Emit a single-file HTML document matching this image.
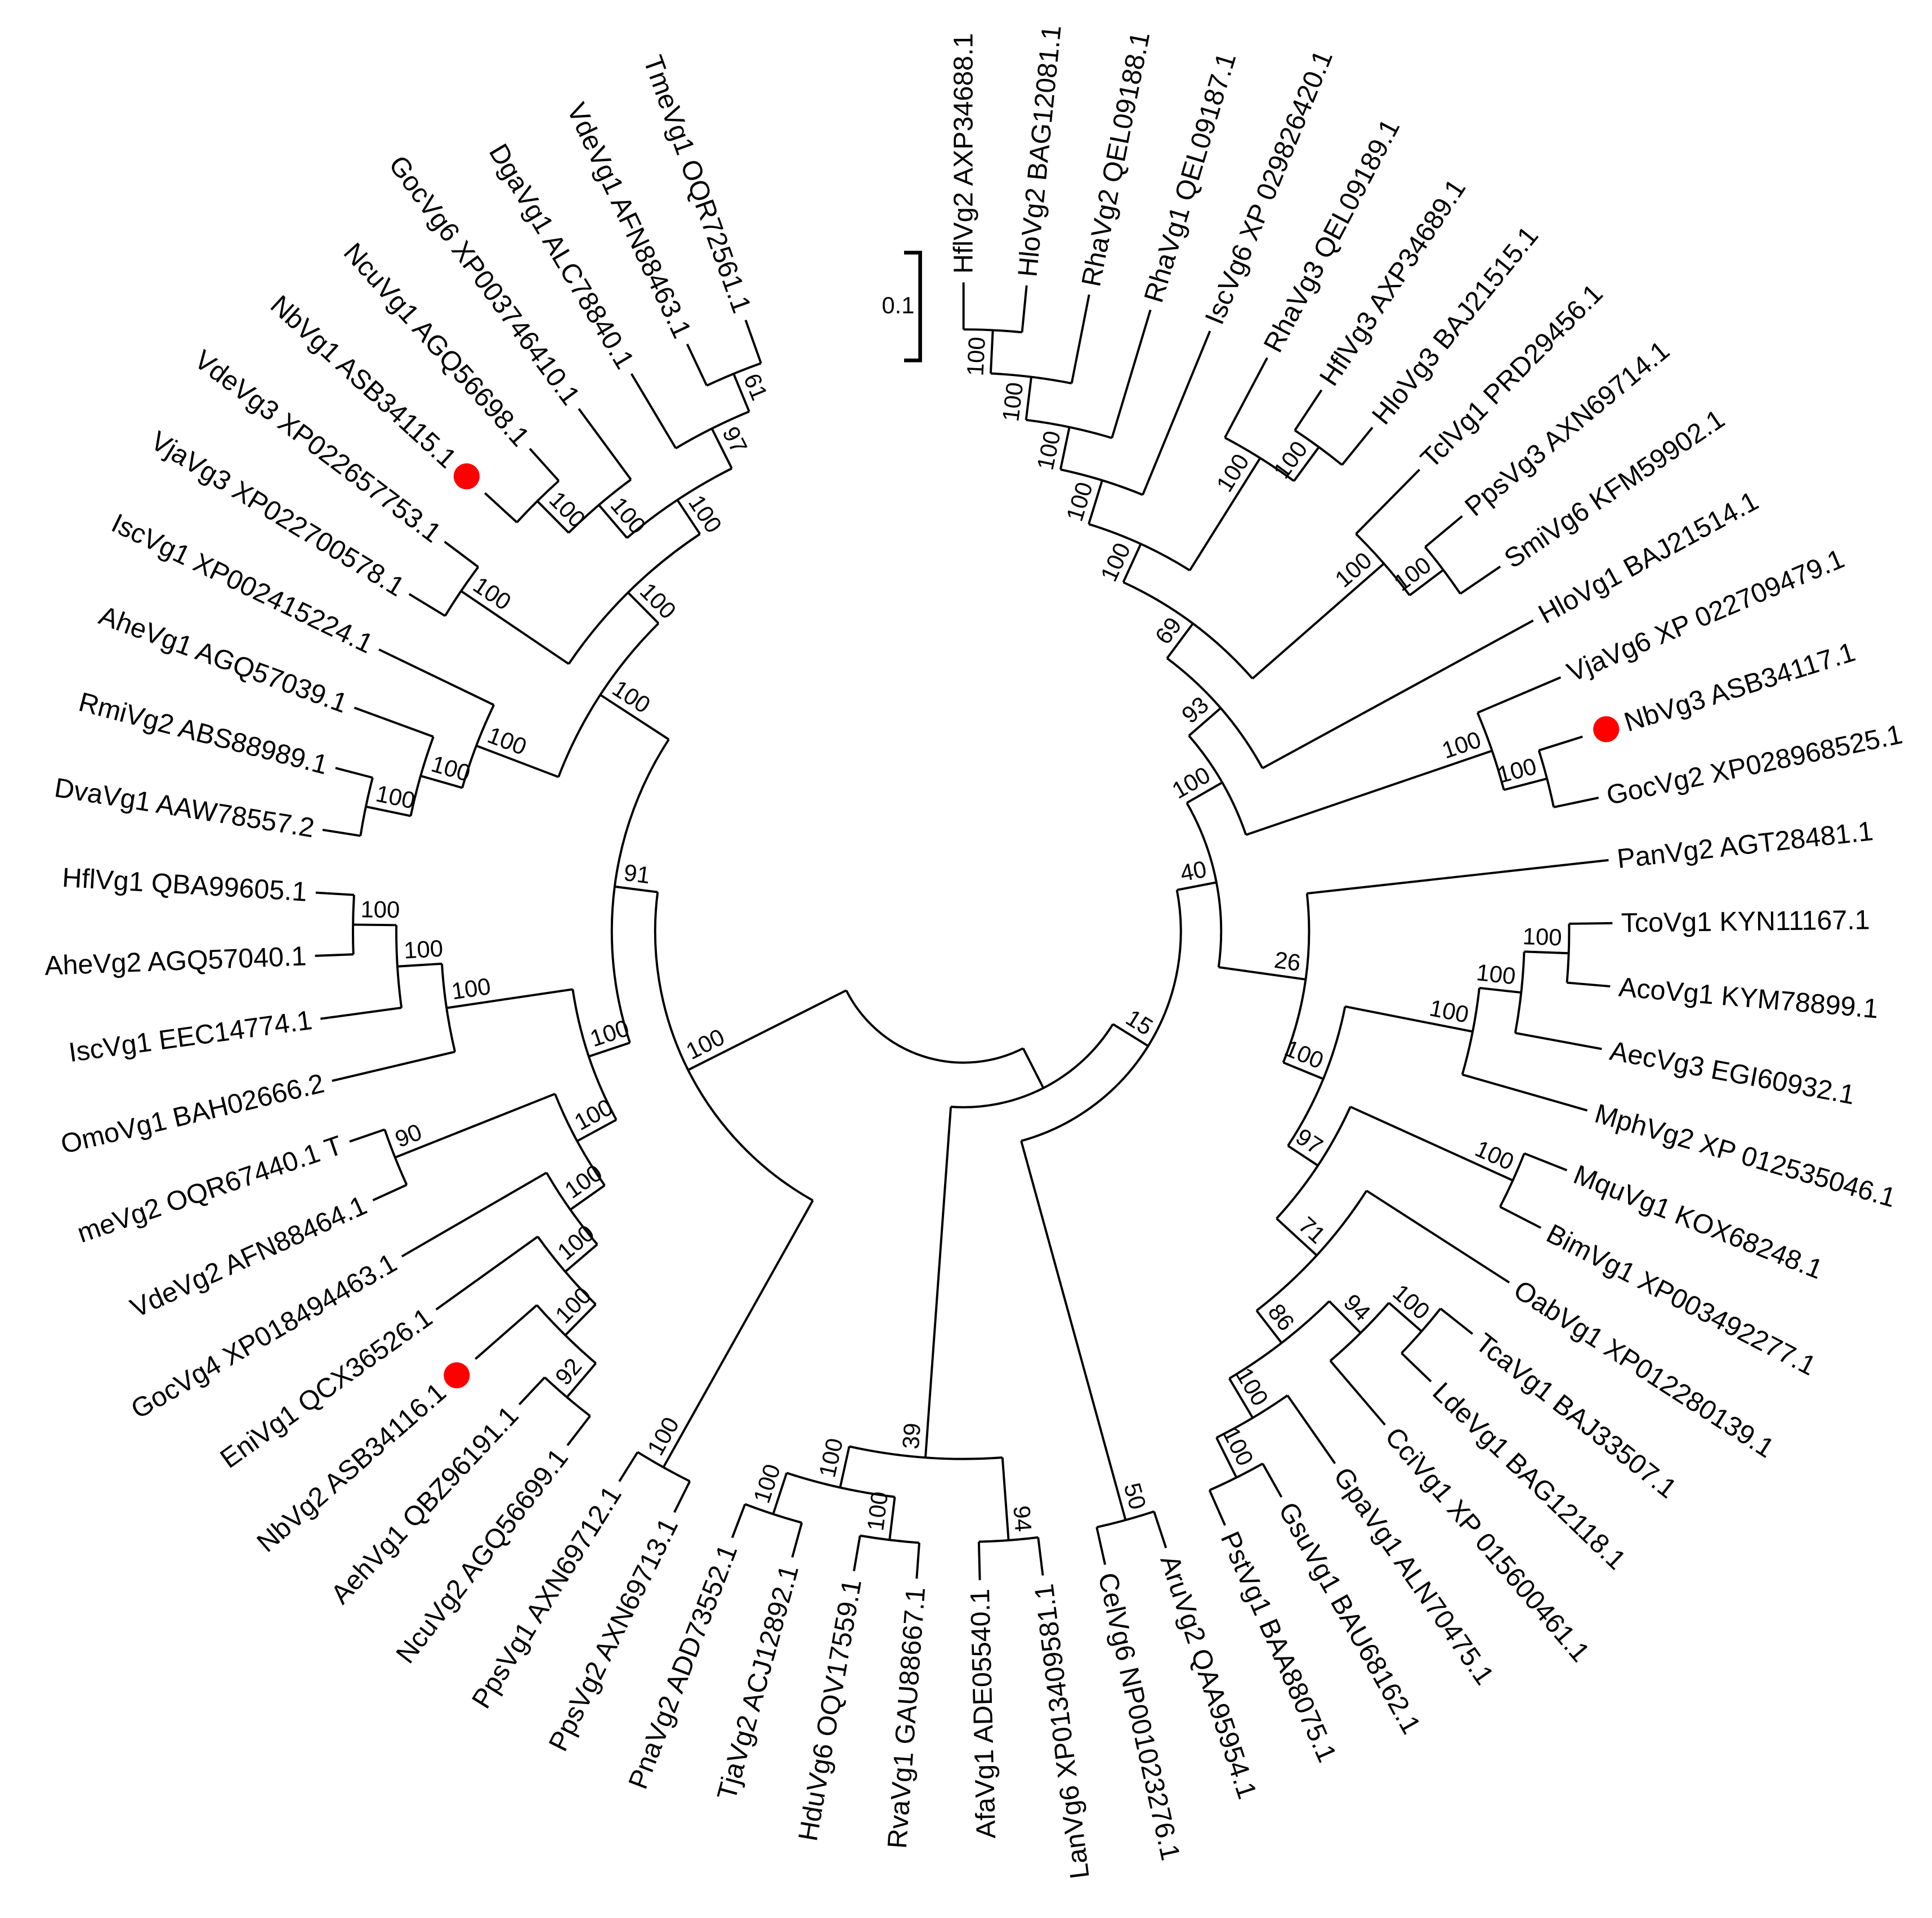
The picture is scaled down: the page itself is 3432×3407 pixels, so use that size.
<!DOCTYPE html>
<html><head><meta charset="utf-8"><style>
html,body{margin:0;padding:0;background:#fff}
svg{display:block}
.l{font-family:"Liberation Sans",Arial,sans-serif;font-size:22px;fill:#000}
.b{font-family:"Liberation Sans",Arial,sans-serif;font-size:19px;fill:#000}
</style></head><body>
<svg xmlns="http://www.w3.org/2000/svg" width="3432" height="3407" viewBox="0 0 1560 1548.64">
<rect width="1560" height="1548.64" fill="#fff"/>
<g transform="translate(778 752)">
<g stroke="#000" stroke-width="1.8" fill="none">
<circle r="486" transform="rotate(-90)" stroke-dasharray="47.33 5000"/>
<circle r="451" transform="rotate(-87.21)" stroke-dasharray="65.88 5000"/>
<circle r="416" transform="rotate(-83.03)" stroke-dasharray="70.94 5000"/>
<circle r="381" transform="rotate(-78.14)" stroke-dasharray="69.56 5000"/>
<circle r="485" transform="rotate(-56.52)" stroke-dasharray="47.23 5000"/>
<circle r="451" transform="rotate(-62.10)" stroke-dasharray="65.88 5000"/>
<circle r="344" transform="rotate(-72.91)" stroke-dasharray="90.0 5000"/>
<circle r="485" transform="rotate(-39.78)" stroke-dasharray="47.23 5000"/>
<circle r="451" transform="rotate(-45.36)" stroke-dasharray="65.88 5000"/>
<circle r="310" transform="rotate(-65.41)" stroke-dasharray="131.1 5000"/>
<circle r="275" transform="rotate(-53.30)" stroke-dasharray="118.45 5000"/>
<circle r="487" transform="rotate(-17.46)" stroke-dasharray="47.43 5000"/>
<circle r="451" transform="rotate(-23.04)" stroke-dasharray="65.88 5000"/>
<circle r="241" transform="rotate(-40.96)" stroke-dasharray="92.96 5000"/>
<circle r="489" transform="rotate(-0.72)" stroke-dasharray="47.62 5000"/>
<circle r="453" transform="rotate(2.07)" stroke-dasharray="66.17 5000"/>
<circle r="419" transform="rotate(6.26)" stroke-dasharray="71.37 5000"/>
<circle r="487" transform="rotate(21.60)" stroke-dasharray="47.43 5000"/>
<circle r="491" transform="rotate(38.34)" stroke-dasharray="47.82 5000"/>
<circle r="456" transform="rotate(41.13)" stroke-dasharray="66.61 5000"/>
<circle r="493" transform="rotate(60.66)" stroke-dasharray="48.01 5000"/>
<circle r="457" transform="rotate(55.08)" stroke-dasharray="66.76 5000"/>
<circle r="420" transform="rotate(45.32)" stroke-dasharray="102.26 5000"/>
<circle r="387" transform="rotate(32.76)" stroke-dasharray="131.98 5000"/>
<circle r="343" transform="rotate(24.39)" stroke-dasharray="108.6 5000"/>
<circle r="314" transform="rotate(11.14)" stroke-dasharray="122.32 5000"/>
<circle r="279" transform="rotate(-6.30)" stroke-dasharray="139.27 5000"/>
<circle r="208" transform="rotate(-29.91)" stroke-dasharray="137.63 5000"/>
<circle r="493" transform="rotate(71.82)" stroke-dasharray="48.01 5000"/>
<circle r="175.5" transform="rotate(-10.96)" stroke-dasharray="262.1 5000"/>
<circle r="493" transform="rotate(82.98)" stroke-dasharray="48.01 5000"/>
<circle r="495" transform="rotate(105.30)" stroke-dasharray="48.21 5000"/>
<circle r="495" transform="rotate(94.14)" stroke-dasharray="48.21 5000"/>
<circle r="460" transform="rotate(96.93)" stroke-dasharray="89.6 5000"/>
<circle r="426" transform="rotate(85.77)" stroke-dasharray="124.46 5000"/>
<circle r="142" transform="rotate(31.83)" stroke-dasharray="154.43 5000"/>
<circle r="496" transform="rotate(116.46)" stroke-dasharray="48.3 5000"/>
<circle r="494" transform="rotate(127.62)" stroke-dasharray="48.11 5000"/>
<circle r="458" transform="rotate(130.41)" stroke-dasharray="66.91 5000"/>
<circle r="423" transform="rotate(134.60)" stroke-dasharray="72.05 5000"/>
<circle r="389" transform="rotate(139.48)" stroke-dasharray="71.02 5000"/>
<circle r="494" transform="rotate(155.52)" stroke-dasharray="48.11 5000"/>
<circle r="355" transform="rotate(144.71)" stroke-dasharray="84.26 5000"/>
<circle r="493" transform="rotate(177.84)" stroke-dasharray="48.01 5000"/>
<circle r="458" transform="rotate(172.26)" stroke-dasharray="66.91 5000"/>
<circle r="422" transform="rotate(166.68)" stroke-dasharray="71.96 5000"/>
<circle r="319" transform="rotate(151.51)" stroke-dasharray="111.69 5000"/>
<circle r="493" transform="rotate(189.00)" stroke-dasharray="48.01 5000"/>
<circle r="456" transform="rotate(191.79)" stroke-dasharray="66.61 5000"/>
<circle r="421" transform="rotate(195.98)" stroke-dasharray="71.72 5000"/>
<circle r="490" transform="rotate(211.32)" stroke-dasharray="47.72 5000"/>
<circle r="489" transform="rotate(222.48)" stroke-dasharray="47.62 5000"/>
<circle r="453" transform="rotate(225.27)" stroke-dasharray="66.17 5000"/>
<circle r="487" transform="rotate(244.80)" stroke-dasharray="47.43 5000"/>
<circle r="454" transform="rotate(239.22)" stroke-dasharray="66.32 5000"/>
<circle r="418" transform="rotate(229.46)" stroke-dasharray="101.77 5000"/>
<circle r="385" transform="rotate(214.11)" stroke-dasharray="150.05 5000"/>
<circle r="350" transform="rotate(200.86)" stroke-dasharray="149.17 5000"/>
<circle r="284" transform="rotate(161.54)" stroke-dasharray="255.41 5000"/>
<circle r="249" transform="rotate(119.25)" stroke-dasharray="295.77 5000"/>
<circle r="106" transform="rotate(62.99)" stroke-dasharray="167.04 5000"/>
<line x1="486" x2="524" transform="rotate(-90)"/>
<line x1="486" x2="524" transform="rotate(-84.42)"/>
<line x1="451" x2="524" transform="rotate(-78.84)"/>
<line x1="416" x2="524" transform="rotate(-73.26)"/>
<line x1="381" x2="524" transform="rotate(-67.68)"/>
<line x1="451" x2="524" transform="rotate(-62.10)"/>
<line x1="485" x2="524" transform="rotate(-56.52)"/>
<line x1="485" x2="524" transform="rotate(-50.94)"/>
<line x1="451" x2="524" transform="rotate(-45.36)"/>
<line x1="485" x2="524" transform="rotate(-39.78)"/>
<line x1="485" x2="524" transform="rotate(-34.20)"/>
<line x1="275" x2="524" transform="rotate(-28.62)"/>
<line x1="451" x2="524" transform="rotate(-23.04)"/>
<line x1="487" x2="524" transform="rotate(-17.46)"/>
<line x1="487" x2="524" transform="rotate(-11.88)"/>
<line x1="279" x2="524" transform="rotate(-6.30)"/>
<line x1="489" x2="524" transform="rotate(-0.72)"/>
<line x1="489" x2="524" transform="rotate(4.86)"/>
<line x1="453" x2="524" transform="rotate(10.44)"/>
<line x1="419" x2="524" transform="rotate(16.02)"/>
<line x1="487" x2="524" transform="rotate(21.60)"/>
<line x1="487" x2="524" transform="rotate(27.18)"/>
<line x1="387" x2="524" transform="rotate(32.76)"/>
<line x1="491" x2="524" transform="rotate(38.34)"/>
<line x1="491" x2="524" transform="rotate(43.92)"/>
<line x1="456" x2="524" transform="rotate(49.50)"/>
<line x1="457" x2="524" transform="rotate(55.08)"/>
<line x1="493" x2="524" transform="rotate(60.66)"/>
<line x1="493" x2="524" transform="rotate(66.24)"/>
<line x1="493" x2="524" transform="rotate(71.82)"/>
<line x1="493" x2="524" transform="rotate(77.40)"/>
<line x1="493" x2="524" transform="rotate(82.98)"/>
<line x1="493" x2="524" transform="rotate(88.56)"/>
<line x1="495" x2="524" transform="rotate(94.14)"/>
<line x1="495" x2="524" transform="rotate(99.72)"/>
<line x1="495" x2="524" transform="rotate(105.30)"/>
<line x1="495" x2="524" transform="rotate(110.88)"/>
<line x1="496" x2="524" transform="rotate(116.46)"/>
<line x1="496" x2="524" transform="rotate(122.04)"/>
<line x1="494" x2="524" transform="rotate(127.62)"/>
<line x1="494" x2="524" transform="rotate(133.20)"/>
<line x1="458" x2="524" transform="rotate(138.78)"/>
<line x1="423" x2="524" transform="rotate(144.36)"/>
<line x1="389" x2="524" transform="rotate(149.94)"/>
<line x1="494" x2="524" transform="rotate(155.52)"/>
<line x1="494" x2="524" transform="rotate(161.10)"/>
<line x1="422" x2="524" transform="rotate(166.68)"/>
<line x1="458" x2="524" transform="rotate(172.26)"/>
<line x1="493" x2="524" transform="rotate(177.84)"/>
<line x1="493" x2="524" transform="rotate(183.42)"/>
<line x1="493" x2="524" transform="rotate(189.00)"/>
<line x1="493" x2="524" transform="rotate(194.58)"/>
<line x1="456" x2="524" transform="rotate(200.16)"/>
<line x1="421" x2="524" transform="rotate(205.74)"/>
<line x1="490" x2="524" transform="rotate(211.32)"/>
<line x1="490" x2="524" transform="rotate(216.90)"/>
<line x1="489" x2="524" transform="rotate(222.48)"/>
<line x1="489" x2="524" transform="rotate(228.06)"/>
<line x1="453" x2="524" transform="rotate(233.64)"/>
<line x1="454" x2="524" transform="rotate(239.22)"/>
<line x1="487" x2="524" transform="rotate(244.80)"/>
<line x1="487" x2="524" transform="rotate(250.38)"/>
<line x1="451" x2="486" transform="rotate(-87.21)"/>
<line x1="416" x2="451" transform="rotate(-83.03)"/>
<line x1="381" x2="416" transform="rotate(-78.14)"/>
<line x1="344" x2="381" transform="rotate(-72.91)"/>
<line x1="451" x2="485" transform="rotate(-53.73)"/>
<line x1="344" x2="451" transform="rotate(-57.92)"/>
<line x1="310" x2="344" transform="rotate(-65.41)"/>
<line x1="451" x2="485" transform="rotate(-36.99)"/>
<line x1="310" x2="451" transform="rotate(-41.18)"/>
<line x1="275" x2="310" transform="rotate(-53.30)"/>
<line x1="241" x2="275" transform="rotate(-40.96)"/>
<line x1="451" x2="487" transform="rotate(-14.67)"/>
<line x1="241" x2="451" transform="rotate(-18.86)"/>
<line x1="208" x2="241" transform="rotate(-29.91)"/>
<line x1="453" x2="489" transform="rotate(2.07)"/>
<line x1="419" x2="453" transform="rotate(6.26)"/>
<line x1="314" x2="419" transform="rotate(11.14)"/>
<line x1="343" x2="487" transform="rotate(24.39)"/>
<line x1="456" x2="491" transform="rotate(41.13)"/>
<line x1="420" x2="456" transform="rotate(45.32)"/>
<line x1="457" x2="493" transform="rotate(63.45)"/>
<line x1="420" x2="457" transform="rotate(59.27)"/>
<line x1="387" x2="420" transform="rotate(52.30)"/>
<line x1="343" x2="387" transform="rotate(42.53)"/>
<line x1="314" x2="343" transform="rotate(33.46)"/>
<line x1="279" x2="314" transform="rotate(22.30)"/>
<line x1="208" x2="279" transform="rotate(8.00)"/>
<line x1="175.5" x2="208" transform="rotate(-10.96)"/>
<line x1="175.5" x2="493" transform="rotate(74.61)"/>
<line x1="142" x2="175.5" transform="rotate(31.83)"/>
<line x1="426" x2="493" transform="rotate(85.77)"/>
<line x1="460" x2="495" transform="rotate(108.09)"/>
<line x1="460" x2="495" transform="rotate(96.93)"/>
<line x1="426" x2="460" transform="rotate(102.51)"/>
<line x1="142" x2="426" transform="rotate(94.14)"/>
<line x1="106" x2="142" transform="rotate(62.99)"/>
<line x1="249" x2="496" transform="rotate(119.25)"/>
<line x1="458" x2="494" transform="rotate(130.41)"/>
<line x1="423" x2="458" transform="rotate(134.60)"/>
<line x1="389" x2="423" transform="rotate(139.48)"/>
<line x1="355" x2="389" transform="rotate(144.71)"/>
<line x1="355" x2="494" transform="rotate(158.31)"/>
<line x1="319" x2="355" transform="rotate(151.51)"/>
<line x1="458" x2="493" transform="rotate(180.63)"/>
<line x1="422" x2="458" transform="rotate(176.45)"/>
<line x1="319" x2="422" transform="rotate(171.57)"/>
<line x1="284" x2="319" transform="rotate(161.54)"/>
<line x1="456" x2="493" transform="rotate(191.79)"/>
<line x1="421" x2="456" transform="rotate(195.98)"/>
<line x1="350" x2="421" transform="rotate(200.86)"/>
<line x1="385" x2="490" transform="rotate(214.11)"/>
<line x1="453" x2="489" transform="rotate(225.27)"/>
<line x1="418" x2="453" transform="rotate(229.46)"/>
<line x1="454" x2="487" transform="rotate(247.59)"/>
<line x1="418" x2="454" transform="rotate(243.41)"/>
<line x1="385" x2="418" transform="rotate(236.44)"/>
<line x1="350" x2="385" transform="rotate(225.28)"/>
<line x1="284" x2="350" transform="rotate(213.07)"/>
<line x1="249" x2="284" transform="rotate(187.31)"/>
<line x1="106" x2="249" transform="rotate(153.28)"/>
</g>
<g fill="#f00">
<circle cx="544" cy="0" r="10.5" transform="rotate(-17.46)"/>
<circle cx="544" cy="0" r="10.5" transform="rotate(138.78)"/>
<circle cx="544" cy="0" r="10.5" transform="rotate(222.48)"/>
</g>
<g class="l" dominant-baseline="central">
<text x="531" transform="rotate(-90)">HflVg2 AXP34688.1</text>
<text x="531" transform="rotate(-84.42)">HloVg2 BAG12081.1</text>
<text x="531" transform="rotate(-78.84)">RhaVg2 QEL09188.1</text>
<text x="531" transform="rotate(-73.26)">RhaVg1 QEL09187.1</text>
<text x="531" transform="rotate(-67.68)">IscVg6 XP 029826420.1</text>
<text x="531" transform="rotate(-62.10)">RhaVg3 QEL09189.1</text>
<text x="531" transform="rotate(-56.52)">HflVg3 AXP34689.1</text>
<text x="531" transform="rotate(-50.94)">HloVg3 BAJ21515.1</text>
<text x="531" transform="rotate(-45.36)">TclVg1 PRD29456.1</text>
<text x="531" transform="rotate(-39.78)">PpsVg3 AXN69714.1</text>
<text x="531" transform="rotate(-34.20)">SmiVg6 KFM59902.1</text>
<text x="531" transform="rotate(-28.62)">HloVg1 BAJ21514.1</text>
<text x="531" transform="rotate(-23.04)">VjaVg6 XP 022709479.1</text>
<text x="560" transform="rotate(-17.46)">NbVg3 ASB34117.1</text>
<text x="531" transform="rotate(-11.88)">GocVg2 XP028968525.1</text>
<text x="531" transform="rotate(-6.30)">PanVg2 AGT28481.1</text>
<text x="531" transform="rotate(-0.72)">TcoVg1 KYN11167.1</text>
<text x="531" transform="rotate(4.86)">AcoVg1 KYM78899.1</text>
<text x="531" transform="rotate(10.44)">AecVg3 EGI60932.1</text>
<text x="531" transform="rotate(16.02)">MphVg2 XP 012535046.1</text>
<text x="531" transform="rotate(21.60)">MquVg1 KOX68248.1</text>
<text x="531" transform="rotate(27.18)">BimVg1 XP003492277.1</text>
<text x="531" transform="rotate(32.76)">OabVg1 XP012280139.1</text>
<text x="531" transform="rotate(38.34)">TcaVg1 BAJ33507.1</text>
<text x="531" transform="rotate(43.92)">LdeVg1 BAG12118.1</text>
<text x="531" transform="rotate(49.50)">CciVg1 XP 015600461.1</text>
<text x="531" transform="rotate(55.08)">GpaVg1 ALN70475.1</text>
<text x="531" transform="rotate(60.66)">GsuVg1 BAU68162.1</text>
<text x="531" transform="rotate(66.24)">PstVg1 BAA88075.1</text>
<text x="531" transform="rotate(71.82)">AruVg2 QAA95954.1</text>
<text x="531" transform="rotate(77.40)">CelVg6 NP001023276.1</text>
</g>
<g class="l" dominant-baseline="central" text-anchor="end">
<text x="-531" transform="rotate(-97.02)">LanVg6 XP013409581.1</text>
<text x="-531" transform="rotate(-91.44)">AfaVg1 ADE05540.1</text>
<text x="-531" transform="rotate(-85.86)">RvaVg1 GAU88667.1</text>
<text x="-531" transform="rotate(-80.28)">HduVg6 OQV17559.1</text>
<text x="-531" transform="rotate(-74.70)">TjaVg2 ACJ12892.1</text>
<text x="-531" transform="rotate(-69.12)">PnaVg2 ADD73552.1</text>
<text x="-531" transform="rotate(-63.54)">PpsVg2 AXN69713.1</text>
<text x="-531" transform="rotate(-57.96)">PpsVg1 AXN69712.1</text>
<text x="-531" transform="rotate(-52.38)">NcuVg2 AGQ56699.1</text>
<text x="-531" transform="rotate(-46.80)">AehVg1 QBZ96191.1</text>
<text x="-560" transform="rotate(-41.22)">NbVg2 ASB34116.1</text>
<text x="-531" transform="rotate(-35.64)">EniVg1 QCX36526.1</text>
<text x="-531" transform="rotate(-30.06)">GocVg4 XP018494463.1</text>
<text x="-531" transform="rotate(-24.48)">VdeVg2 AFN88464.1</text>
<text x="-531" transform="rotate(-18.90)">meVg2 OQR67440.1 T</text>
<text x="-531" transform="rotate(-13.32)">OmoVg1 BAH02666.2</text>
<text x="-531" transform="rotate(-7.74)">IscVg1 EEC14774.1</text>
<text x="-531" transform="rotate(-2.16)">AheVg2 AGQ57040.1</text>
<text x="-531" transform="rotate(3.42)">HflVg1 QBA99605.1</text>
<text x="-531" transform="rotate(9.00)">DvaVg1 AAW78557.2</text>
<text x="-531" transform="rotate(14.58)">RmiVg2 ABS88989.1</text>
<text x="-531" transform="rotate(20.16)">AheVg1 AGQ57039.1</text>
<text x="-531" transform="rotate(25.74)">IscVg1 XP002415224.1</text>
<text x="-531" transform="rotate(31.32)">VjaVg3 XP022700578.1</text>
<text x="-531" transform="rotate(36.90)">VdeVg3 XP022657753.1</text>
<text x="-560" transform="rotate(42.48)">NbVg1 ASB34115.1</text>
<text x="-531" transform="rotate(48.06)">NcuVg1 AGQ56698.1</text>
<text x="-531" transform="rotate(53.64)">GocVg6 XP003746410.1</text>
<text x="-531" transform="rotate(59.22)">DgaVg1 ALC78840.1</text>
<text x="-531" transform="rotate(64.80)">VdeVg1 AFN88463.1</text>
<text x="-531" transform="rotate(70.38)">TmeVg1 OQR72561.1</text>
</g>
<g class="b" text-anchor="end">
<text x="480" y="-6" transform="rotate(-87.21)">100</text>
<text x="445" y="-6" transform="rotate(-83.03)">100</text>
<text x="410" y="-6" transform="rotate(-78.14)">100</text>
<text x="375" y="-6" transform="rotate(-72.91)">100</text>
<text x="479" y="-6" transform="rotate(-53.73)">100</text>
<text x="445" y="-6" transform="rotate(-57.92)">100</text>
<text x="338" y="-6" transform="rotate(-65.41)">100</text>
<text x="479" y="-6" transform="rotate(-36.99)">100</text>
<text x="445" y="-6" transform="rotate(-41.18)">100</text>
<text x="304" y="-6" transform="rotate(-53.30)">69</text>
<text x="269" y="-6" transform="rotate(-40.96)">93</text>
<text x="481" y="-6" transform="rotate(-14.67)">100</text>
<text x="445" y="-6" transform="rotate(-18.86)">100</text>
<text x="235" y="-6" transform="rotate(-29.91)">100</text>
<text x="483" y="-6" transform="rotate(2.07)">100</text>
<text x="447" y="-6" transform="rotate(6.26)">100</text>
<text x="413" y="-6" transform="rotate(11.14)">100</text>
<text x="481" y="-6" transform="rotate(24.39)">100</text>
<text x="485" y="-6" transform="rotate(41.13)">100</text>
<text x="450" y="-6" transform="rotate(45.32)">94</text>
<text x="487" y="-6" transform="rotate(63.45)">100</text>
<text x="451" y="-6" transform="rotate(59.27)">100</text>
<text x="414" y="-6" transform="rotate(52.30)">86</text>
<text x="381" y="-6" transform="rotate(42.53)">71</text>
<text x="337" y="-6" transform="rotate(33.46)">97</text>
<text x="308" y="-6" transform="rotate(22.30)">100</text>
<text x="273" y="-6" transform="rotate(8.00)">26</text>
<text x="202" y="-6" transform="rotate(-10.96)">40</text>
<text x="487" y="-6" transform="rotate(74.61)">50</text>
<text x="170" y="-6" transform="rotate(31.83)">15</text>
<text x="487" y="-6" transform="rotate(85.77)">94</text>
</g>
<g class="b">
<text x="-420" y="-6" transform="rotate(-85.86)">39</text>
<text x="-489" y="-6" transform="rotate(-71.91)">100</text>
<text x="-489" y="-6" transform="rotate(-83.07)">100</text>
<text x="-454" y="-6" transform="rotate(-77.49)">100</text>
<text x="-490" y="-6" transform="rotate(-60.75)">100</text>
<text x="-488" y="-6" transform="rotate(-49.59)">92</text>
<text x="-452" y="-6" transform="rotate(-45.40)">100</text>
<text x="-417" y="-6" transform="rotate(-40.52)">100</text>
<text x="-383" y="-6" transform="rotate(-35.29)">100</text>
<text x="-488" y="-6" transform="rotate(-21.69)">90</text>
<text x="-349" y="-6" transform="rotate(-28.49)">100</text>
<text x="-487" y="-6" transform="rotate(0.63)">100</text>
<text x="-452" y="-6" transform="rotate(-3.55)">100</text>
<text x="-416" y="-6" transform="rotate(-8.43)">100</text>
<text x="-313" y="-6" transform="rotate(-18.46)">100</text>
<text x="-487" y="-6" transform="rotate(11.79)">100</text>
<text x="-450" y="-6" transform="rotate(15.98)">100</text>
<text x="-415" y="-6" transform="rotate(20.86)">100</text>
<text x="-484" y="-6" transform="rotate(34.11)">100</text>
<text x="-483" y="-6" transform="rotate(45.27)">100</text>
<text x="-447" y="-6" transform="rotate(49.46)">100</text>
<text x="-481" y="-6" transform="rotate(67.59)">61</text>
<text x="-448" y="-6" transform="rotate(63.41)">97</text>
<text x="-412" y="-6" transform="rotate(56.44)">100</text>
<text x="-379" y="-6" transform="rotate(45.28)">100</text>
<text x="-344" y="-6" transform="rotate(33.07)">100</text>
<text x="-278" y="-6" transform="rotate(7.31)">91</text>
<text x="-243" y="-6" transform="rotate(-26.72)">100</text>
</g>
</g>
<path d="M730,204 H743 V291 H730" stroke="#000" stroke-width="3" fill="none"/>
<text class="b" x="712" y="253">0.1</text>
</svg>
</body></html>
